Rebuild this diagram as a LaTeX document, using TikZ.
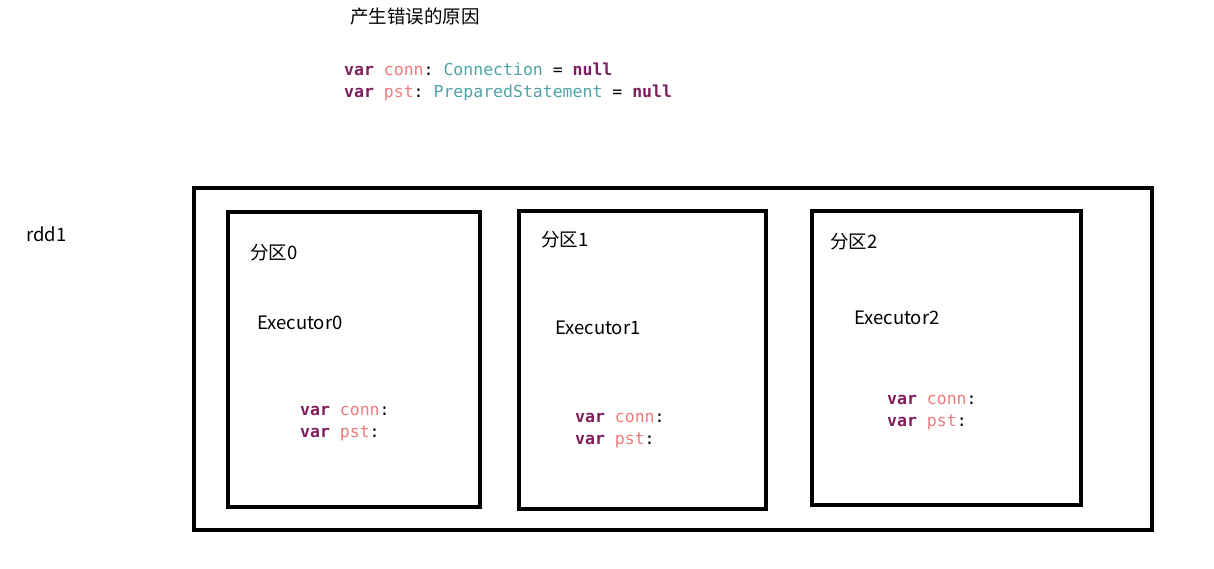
\documentclass[tikz,border=0pt]{standalone}
\usepackage{fontspec}
\usepackage{xcolor}
\usepackage{tikz}
\usetikzlibrary{positioning}
\setmainfont{Noto Sans CJK SC}
\setmonofont{DejaVu Sans Mono}
\definecolor{kwpurple}{HTML}{7F1D5E}
\definecolor{varred}{HTML}{EE7A7A}
\definecolor{typeteal}{HTML}{4FA3A6}
\newcommand{\kw}[1]{\textcolor{kwpurple}{\textbf{#1}}}
\newcommand{\vn}[1]{\textcolor{varred}{#1}}
\newcommand{\tp}[1]{\textcolor{typeteal}{#1}}

\begin{document}
\begin{tikzpicture}[
    x=1pt, y=-1pt,
    frame/.style={rectangle, draw, line width=4pt, inner sep=0pt},
    label/.style={anchor=west, inner sep=0pt, font=\fontsize{18.5}{22}\selectfont},
    code/.style={anchor=west, inner sep=0pt, align=left, font=\ttfamily\fontsize{16.5}{22}\selectfont}
]
    \useasboundingbox (0,0) rectangle (1214,569);

    % title and declaration
    \node[label] (title) at (350,17) {产生错误的原因};
    \node[code] (decl) at (344,82) {\kw{var} \vn{conn}: \tp{Connection} = \kw{null}\\\kw{var} \vn{pst}: \tp{PreparedStatement} = \kw{null}};

    \node[label] (rdd) at (26,234) {rdd1};

    % rdd and its partitions
    \node[frame, minimum width=958pt, minimum height=342pt] (rddbox) at (673,359) {};
    \node[frame, minimum width=252pt, minimum height=295pt] (part0) at (354,359.5) {};
    \node[frame, minimum width=247pt, minimum height=298pt] (part1) at (642.5,360) {};
    \node[frame, minimum width=269pt, minimum height=294pt] (part2) at (946.5,358) {};

    \node[label] (name0) at (250,253) {分区0};
    \node[label] (exec0) at (257,323) {Executor0};
    \node[code] (vars0) at (300,424) {\kw{var} \vn{conn}:\\\kw{var} \vn{pst}:};

    \node[label] (name1) at (541,240) {分区1};
    \node[label] (exec1) at (555,328) {Executor1};
    \node[code] (vars1) at (575,431) {\kw{var} \vn{conn}:\\\kw{var} \vn{pst}:};

    \node[label] (name2) at (830,242) {分区2};
    \node[label] (exec2) at (854,318) {Executor2};
    \node[code] (vars2) at (887,413) {\kw{var} \vn{conn}:\\\kw{var} \vn{pst}:};
\end{tikzpicture}
\end{document}
